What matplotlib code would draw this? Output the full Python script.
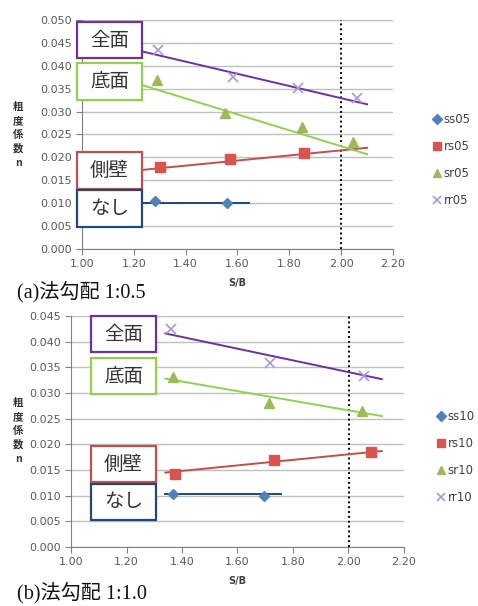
import numpy as np
import matplotlib
matplotlib.use('Agg')
import matplotlib.pyplot as plt
from matplotlib.patches import Rectangle

plt.rcParams['font.family'] = ['Noto Sans CJK JP', 'DejaVu Sans']

# (a) 法勾配 1:0.5
a_ss_x = [1.28, 1.56]
a_ss_y = [0.0105, 0.0100]
a_rs_x = [1.30, 1.57, 1.855]
a_rs_y = [0.0180, 0.0197, 0.0209]
a_sr_x = [1.29, 1.55, 1.848, 2.045]
a_sr_y = [0.0369, 0.0297, 0.0267, 0.0234]
a_rr_x = [1.293, 1.583, 1.835, 2.06]
a_rr_y = [0.0434, 0.0375, 0.0351, 0.0329]
# 近似線の両端
a_ss_lx, a_ss_ly = [1.22, 1.645], [0.0100, 0.0100]
a_rs_lx, a_rs_ly = [1.22, 2.10], [0.0172, 0.0221]
a_sr_lx, a_sr_ly = [1.22, 2.10], [0.0360, 0.0207]
a_rr_lx, a_rr_ly = [1.22, 2.10], [0.0433, 0.0316]

# (b) 法勾配 1:1.0
b_ss_x = [1.366, 1.697]
b_ss_y = [0.0103, 0.0099]
b_rs_x = [1.375, 1.732, 2.08]
b_rs_y = [0.0143, 0.0169, 0.0185]
b_sr_x = [1.366, 1.715, 2.05]
b_sr_y = [0.0331, 0.0281, 0.0264]
b_rr_x = [1.36, 1.717, 2.057]
b_rr_y = [0.0424, 0.0359, 0.0333]
b_ss_lx, b_ss_ly = [1.34, 1.756], [0.0103, 0.0103]
b_rs_lx, b_rs_ly = [1.34, 2.12], [0.0145, 0.0187]
b_sr_lx, b_sr_ly = [1.34, 2.12], [0.0328, 0.0255]
b_rr_lx, b_rr_ly = [1.34, 2.12], [0.0416, 0.0327]

W, H = 478, 606
fig = plt.figure(figsize=(W / 100, H / 100), dpi=100)


def fx(px):
    return px / W


def fy(py):
    return 1 - py / H


grey = '#808080'


def style_axes(ax, ymax):
    ax.set_xlim(1.0, 2.2)
    ax.set_ylim(0, ymax)
    ax.set_xticks(np.arange(1.0, 2.21, 0.2))
    ax.set_yticks(np.arange(0, ymax + 1e-9, 0.005))
    ax.xaxis.set_major_formatter(matplotlib.ticker.FormatStrFormatter('%.2f'))
    ax.yaxis.set_major_formatter(matplotlib.ticker.FormatStrFormatter('%.3f'))
    ax.grid(axis='y', color='#BFBFBF', linewidth=1)
    ax.set_axisbelow(True)
    for s in ['top', 'right']:
        ax.spines[s].set_visible(False)
    for s in ['left', 'bottom']:
        ax.spines[s].set_color(grey)
        ax.spines[s].set_linewidth(0.8)
    ax.tick_params(colors=grey, labelcolor='#595959', labelsize=8, length=4,
                   width=0.8, direction='out')
    for t in ax.get_xticklabels() + ax.get_yticklabels():
        t.set_family('DejaVu Sans')
    ax.set_xlabel('S/B', fontsize=7, fontweight='bold', color='#404040',
                  family='DejaVu Sans', labelpad=6)
    ax.axvline(2.0, color='black', linestyle=(0, (1, 1.5)), linewidth=1.4, zorder=1)


def draw(ax, d, tag):
    (ssx, ssy, ssl), (rsx, rsy, rsl), (srx, sry, srl), (rrx, rry, rrl) = d
    ax.plot(*ssl, color='#1F497D', linewidth=1.4, zorder=2)
    ax.plot(*rsl, color='#C0504D', linewidth=1.4, zorder=2)
    ax.plot(*srl, color='#92D050', linewidth=1.4, zorder=2)
    ax.plot(*rrl, color='#7030A0', linewidth=1.4, zorder=2)
    ax.plot(ssx, ssy, 'D', color='#4F81BD', markersize=5.5, linestyle='none',
            label='ss' + tag, zorder=3)
    ax.plot(rsx, rsy, 's', color='#D9534F', markersize=7, linestyle='none',
            label='rs' + tag, zorder=3)
    ax.plot(srx, sry, '^', color='#9BBB59', markersize=7, linestyle='none',
            label='sr' + tag, zorder=3)
    ax.plot(rrx, rry, 'x', color='#A897D4', markersize=7, markeredgewidth=1.2,
            linestyle='none', label='rr' + tag, zorder=3)


ax1 = fig.add_axes([fx(82), fy(249), fx(393) - fx(82), fy(20) - fy(249)])
style_axes(ax1, 0.050)
draw(ax1, [(a_ss_x, a_ss_y, (a_ss_lx, a_ss_ly)), (a_rs_x, a_rs_y, (a_rs_lx, a_rs_ly)),
           (a_sr_x, a_sr_y, (a_sr_lx, a_sr_ly)), (a_rr_x, a_rr_y, (a_rr_lx, a_rr_ly))], '05')

ax2 = fig.add_axes([fx(71), fy(547), fx(404) - fx(71), fy(316) - fy(547)])
style_axes(ax2, 0.045)
draw(ax2, [(b_ss_x, b_ss_y, (b_ss_lx, b_ss_ly)), (b_rs_x, b_rs_y, (b_rs_lx, b_rs_ly)),
           (b_sr_x, b_sr_y, (b_sr_lx, b_sr_ly)), (b_rr_x, b_rr_y, (b_rr_lx, b_rr_ly))], '10')

for ax, lx, ly in [(ax1, 426, 160), (ax2, 430, 457)]:
    leg = ax.legend(loc='center left', bbox_to_anchor=(fx(lx), fy(ly)),
                    bbox_transform=fig.transFigure, frameon=False, fontsize=8.5,
                    handlelength=0.9, handletextpad=0.1, labelspacing=1.2,
                    borderpad=0, markerscale=0.85)
    for t in leg.get_texts():
        t.set_color('#404040')
        t.set_family('DejaVu Sans')

# 縦軸ラベル
fig.text(fx(18), fy(135), '粗\n度\n係\n数\nn', ha='center', va='center',
         fontsize=7.5, fontweight='bold', color='#333333', linespacing=1.45)
fig.text(fx(18), fy(431), '粗\n度\n係\n数\nn', ha='center', va='center',
         fontsize=7.5, fontweight='bold', color='#333333', linespacing=1.45)

# ラベルの枠
boxes = [
    ('全面', '#7030A0', 77, 22, 142, 58),
    ('底面', '#92D050', 77, 63, 142, 100),
    ('側壁', '#C0504D', 77, 152, 142, 189),
    ('なし', '#1F497D', 77, 190, 142, 227),
    ('全面', '#7030A0', 91, 316, 156, 352),
    ('底面', '#92D050', 91, 358, 156, 394),
    ('側壁', '#C0504D', 91, 446, 156, 482),
    ('なし', '#1F497D', 91, 484, 156, 520),
]
for txt, col, x0, y0, x1, y1 in boxes:
    fig.add_artist(Rectangle((fx(x0), fy(y1)), fx(x1) - fx(x0), fy(y0) - fy(y1),
                             transform=fig.transFigure, facecolor='white',
                             edgecolor=col, linewidth=1.6, zorder=5))
    fig.text(fx((x0 + x1) / 2), fy((y0 + y1) / 2), txt, ha='center', va='center',
             fontsize=14, color='#333333', zorder=6)

cap_font = ['Liberation Serif', 'Noto Sans CJK JP']
fig.text(fx(17), fy(292), '(a)法勾配 1:0.5', ha='left', va='center', fontsize=14.5,
         color='#111111', family=cap_font)
fig.text(fx(17), fy(593), '(b)法勾配 1:1.0', ha='left', va='center', fontsize=14.5,
         color='#111111', family=cap_font)

fig.savefig('out.png', dpi=100)
